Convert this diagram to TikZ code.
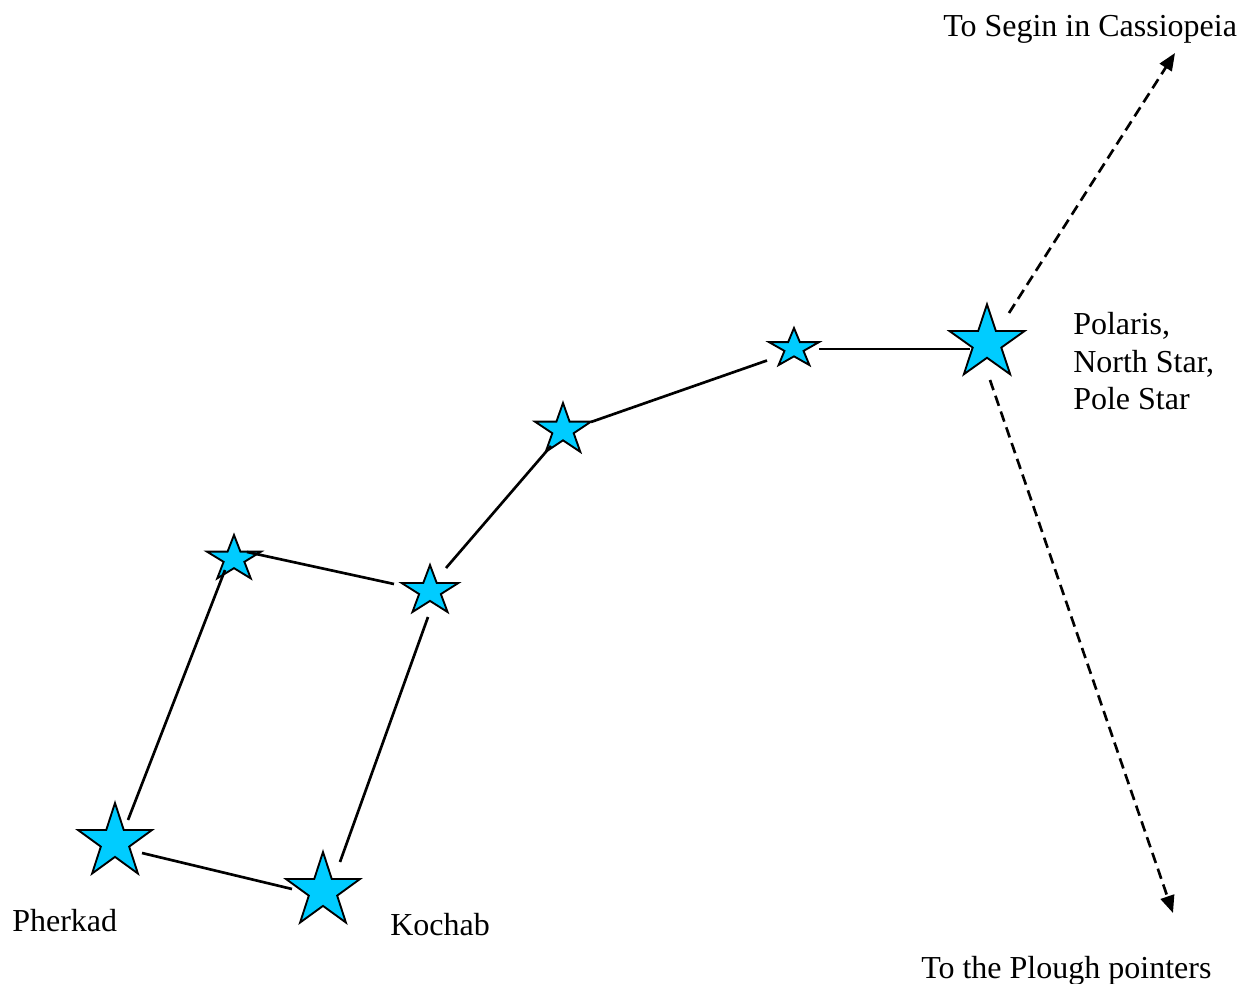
\documentclass[tikz,border=0pt]{standalone}
\usepackage{fontspec}
\setmainfont{Liberation Serif}
\usetikzlibrary{shapes.geometric,arrows.meta}

\definecolor{starcyan}{RGB}{0,204,255}

\tikzset{
  starnode/.style={star, star points=5, star point ratio=2.618, inner sep=0pt,
    fill=starcyan, draw=black, line width=1.4pt, line join=miter},
  link/.style={draw=black, line width=2pt},
  pointer/.style={draw=black, line width=2pt, dash pattern=on 8pt off 4.5pt,
    -{Triangle[length=13pt,width=10.5pt]}},
  label/.style={inner sep=0pt, anchor=base west, font=\fontsize{24pt}{27.75pt}\selectfont},
}

\begin{document}
\begin{tikzpicture}[x=0.75pt,y=-0.75pt]
  \useasboundingbox (0,0) rectangle (1243,984);

  % stars of the Little Dipper
  \node[starnode, minimum size=58.5pt] (pherkad) at (115,842) {};
  \node[starnode, minimum size=58.5pt] (kochab) at (323,891) {};
  \node[starnode, minimum size=36pt, xscale=1.19] (a) at (234,559) {};
  \node[starnode, minimum size=39pt, xscale=1.15] (b) at (430,591) {};
  \node[starnode, minimum size=40.5pt, xscale=1.09] (c) at (563,430) {};
  \node[starnode, minimum size=30.75pt, xscale=1.28] (d) at (794,348.5) {};
  \node[starnode, minimum size=58pt, xscale=1.02] (polaris) at (987,343) {};

  % outline of the constellation
  \draw[link] ([shift={(13,-22)}]pherkad.center) -- ([shift={(-9,11)}]a.center);
  \draw[link] ([shift={(27,11)}]pherkad.center) -- ([shift={(-31,-2)}]kochab.center);
  \draw[link] ([shift={(17,-29)}]kochab.center) -- ([shift={(-2,26)}]b.center);
  \draw[link] ([shift={(13,-7)}]a.center) -- ([shift={(-36,-7)}]b.center);
  \draw[link] ([shift={(16,-23)}]b.center) -- ([shift={(-12,16)}]c.center);
  \draw[link] ([shift={(28,-8)}]c.center) -- ([shift={(-27,12)}]d.center);
  \draw[link] ([shift={(25,0.5)}]d.center) -- ([shift={(-17,6)}]polaris.center);

  % pointers away from Polaris
  \coordinate (toSegin) at (1175,53);
  \coordinate (toPlough) at (1173,913);
  \draw[pointer] ([shift={(22,-30)}]polaris.center) -- (toSegin);
  \draw[pointer] ([shift={(3,37)}]polaris.center) -- (toPlough);

  % labels
  \node[label] (seginLabel) at (943,37) {To Segin in Cassiopeia};
  \node[label, align=left] (polarisLabel) at (1073,409) {Polaris,\\North Star,\\Pole Star};
  \node[label] (pherkadLabel) at (12,931) {Pherkad};
  \node[label] (kochabLabel) at (390,935) {Kochab};
  \node[label] (ploughLabel) at (921,978) {To the Plough pointers};
\end{tikzpicture}
\end{document}
